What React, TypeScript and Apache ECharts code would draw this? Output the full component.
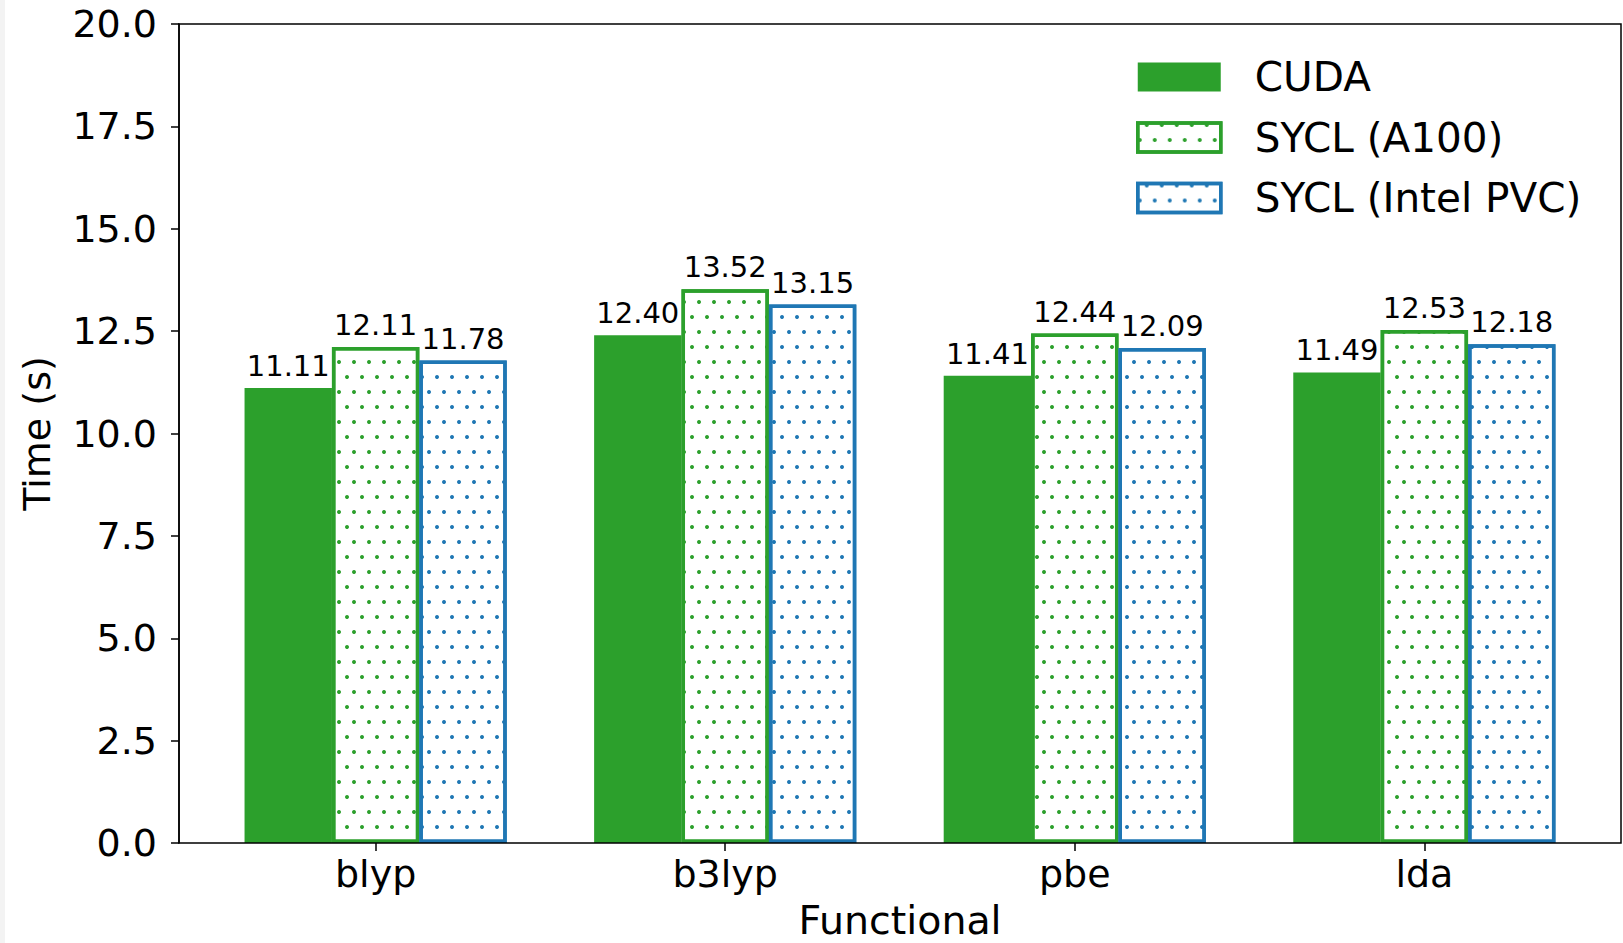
import React, { useEffect, useRef } from "react";
import * as echarts from "echarts";

const categories = ["blyp", "b3lyp", "pbe", "lda"];
const cudaTimes = [11.11, 12.4, 11.41, 11.49];
const syclA100Times = [12.11, 13.52, 12.44, 12.53];
const syclPvcTimes = [11.78, 13.15, 12.09, 12.18];
const seriesNames = ["CUDA", "SYCL (A100)", "SYCL (Intel PVC)"];
const yMin = 0;
const yMax = 20;
const yStep = 2.5;

const GREEN = "#2ca02c";
const BLUE = "#1f77b4";
const FONT = "DejaVu Sans";

const dotDecal = (color: string) => ({
  symbol: "circle",
  symbolSize: 1,
  color,
  backgroundColor: "#ffffff",
  dashArrayX: [
    [3.3, 10.5],
    [0, 6.9, 3.3, 3.6],
  ],
  dashArrayY: [3.3, 10.2],
  rotation: 0,
});

export default function App() {
  const ref = useRef<HTMLDivElement>(null);
  useEffect(() => {
    if (!ref.current) return;
    const chart = echarts.init(ref.current, undefined, { renderer: "svg" });
    const plotL = 179;
    const plotR = 1621;
    const plotT = 24;
    const plotB = 843;
    const unit = (plotR - plotL) / 4.125;
    const gridL = plotL + 0.0625 * unit;
    const gridW = 4 * unit;
    const barW = 0.25 * unit;

    const label = {
      show: true,
      position: "top",
      distance: 7.5,
      fontFamily: FONT,
      fontSize: 29,
      color: "#000",
      formatter: (p: any) => Number(p.value).toFixed(2),
    };

    const styles = [
      { color: GREEN },
      {
        color: "#ffffff",
        borderColor: GREEN,
        borderWidth: 3.5,
        decal: dotDecal(GREEN),
      },
      {
        color: "#ffffff",
        borderColor: BLUE,
        borderWidth: 3.5,
        decal: dotDecal(BLUE),
      },
    ];
    const values = [cudaTimes, syclA100Times, syclPvcTimes];

    chart.setOption({
      animation: false,
      backgroundColor: "#ffffff",
      textStyle: { fontFamily: FONT },
      grid: {
        left: gridL,
        width: gridW,
        top: plotT,
        height: plotB - plotT,
        containLabel: false,
        outerBoundsMode: "none",
      },
      legend: {
        orient: "vertical",
        left: 1136,
        top: 55,
        padding: 0,
        icon: "rect",
        itemWidth: 83,
        itemHeight: 29,
        itemGap: 16.5,
        data: seriesNames.map((name, i) => ({
          name,
          itemStyle: { ...styles[i] },
        })),
        textStyle: {
          fontFamily: FONT,
          fontSize: 40.5,
          color: "#000",
          lineHeight: 44,
          padding: [0, 0, 0, 29],
        },
      },
      xAxis: {
        type: "category",
        data: categories,
        name: "Functional",
        nameLocation: "middle",
        nameGap: 61,
        nameTextStyle: {
          fontFamily: FONT,
          fontSize: 39.5,
          lineHeight: 32,
          color: "#000",
        },
        axisLine: { show: false },
        axisTick: {
          show: true,
          alignWithLabel: true,
          length: 8,
          lineStyle: { color: "#000", width: 1.5 },
        },
        axisLabel: {
          fontFamily: FONT,
          fontSize: 38,
          color: "#000",
          margin: 12,
        },
        splitLine: { show: false },
      },
      yAxis: {
        type: "value",
        min: yMin,
        max: yMax,
        interval: yStep,
        offset: gridL - plotL,
        name: "Time (s)",
        nameLocation: "middle",
        nameGap: 123,
        nameTextStyle: { fontFamily: FONT, fontSize: 38, color: "#000" },
        axisLine: { show: true, lineStyle: { color: "#000", width: 1.5 } },
        axisTick: {
          show: true,
          length: 8,
          lineStyle: { color: "#000", width: 1.5 },
        },
        axisLabel: {
          fontFamily: FONT,
          fontSize: 38,
          color: "#000",
          margin: 22,
          formatter: (v: number) => v.toFixed(1),
        },
        splitLine: { show: false },
      },
      series: seriesNames.map((name, i) => ({
        name,
        type: "bar",
        data: values[i],
        barWidth: barW,
        barGap: "0%",
        itemStyle: styles[i],
        label,
      })),
      graphic: [
        {
          type: "rect",
          shape: { x: 0, y: 0, width: 5, height: 943 },
          style: { fill: "#f3f3f3" },
          silent: true,
        },
        {
          type: "rect",
          shape: { x: plotL, y: plotT, width: plotR - plotL, height: plotB - plotT },
          style: { fill: "none", stroke: "#000", lineWidth: 1.5 },
          z: 100,
          silent: true,
        },
      ],
    });
    return () => chart.dispose();
  }, []);
  return (
    <div
      ref={ref}
      style={{ position: "fixed", left: 0, top: 0, width: 1623, height: 943 }}
    />
  );
}
